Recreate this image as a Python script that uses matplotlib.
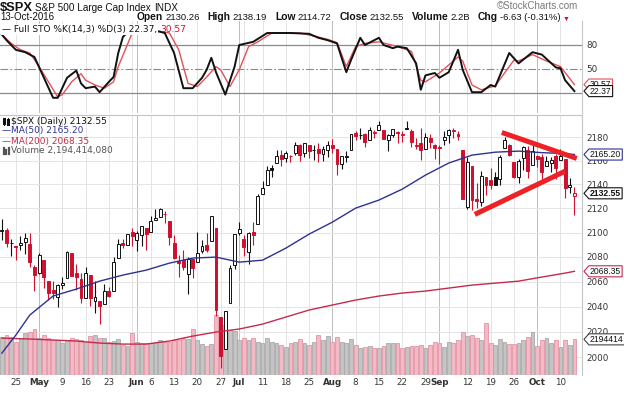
"""
$SPX daily candlestick chart with Full STO, MA(50), MA(200) and volume overlay.
Saves out.png (624x394).
"""

import matplotlib
matplotlib.use("Agg")
import matplotlib.pyplot as plt
import matplotlib.ticker as mticker
import matplotlib.transforms as mtrans
from matplotlib.lines import Line2D
from matplotlib.path import Path
import numpy as np
import pandas as pd

plt.rcParams["font.family"] = ["DejaVu Sans"]

W, H = 624, 394

# ---------------------------------------------------------------- data
HOLIDAYS = ["2016-05-30", "2016-07-04", "2016-09-05"]
dates = pd.bdate_range("2016-04-20", "2016-10-13")
dates = dates[~dates.isin(pd.to_datetime(HOLIDAYS))]

opens = [
    2101.00, 2102.09, 2091.49, 2089.37, 2089.84, 2092.57, 2090.93, 2071.82, 2067.17, 2077.18,
    2060.30, 2052.95, 2047.77, 2057.55, 2062.63, 2083.29, 2067.17, 2062.50, 2046.53, 2065.04,
    2044.38, 2044.21, 2041.88, 2052.23, 2052.65, 2078.93, 2091.44, 2090.06, 2100.13, 2093.94,
    2097.71, 2104.07, 2100.83, 2110.18, 2112.71, 2115.65, 2109.57, 2091.75, 2076.65, 2077.60,
    2066.36, 2078.20, 2075.58, 2085.19, 2089.75, 2092.80, 2103.56, 2031.45, 2006.67, 2042.69,
    2073.17, 2099.34, 2095.05, 2084.43, 2100.42, 2106.97, 2131.72, 2139.50, 2153.81, 2157.88,
    2165.13, 2162.04, 2163.79, 2166.10, 2172.91, 2166.47, 2173.71, 2168.97, 2169.81, 2166.05,
    2168.83, 2173.15, 2169.94, 2156.81, 2163.51, 2168.79, 2183.76, 2182.24, 2182.81, 2177.97,
    2183.74, 2186.08, 2186.24, 2177.84, 2181.90, 2184.24, 2181.58, 2187.81, 2185.09, 2173.29,
    2175.10, 2170.19, 2179.45, 2173.56, 2171.33, 2177.49, 2181.61, 2185.17, 2182.76, 2169.08,
    2120.86, 2155.81, 2127.86, 2125.36, 2146.48, 2143.99, 2145.94, 2144.58, 2170.94, 2173.29,
    2158.54, 2146.04, 2161.85, 2168.90, 2156.51, 2164.33, 2163.37, 2155.15, 2158.22, 2164.19,
    2160.39, 2161.35, 2137.67, 2130.26,
]
highs = [
    2111.05, 2103.78, 2094.32, 2089.37, 2096.87, 2099.89, 2099.30, 2073.85, 2083.42, 2077.18,
    2060.30, 2060.23, 2057.72, 2064.15, 2084.87, 2083.29, 2073.99, 2066.79, 2071.88, 2065.69,
    2060.61, 2044.21, 2058.35, 2055.58, 2079.67, 2094.73, 2094.30, 2099.06, 2103.48, 2100.97,
    2105.26, 2104.07, 2113.36, 2119.22, 2120.55, 2117.64, 2109.57, 2098.12, 2081.30, 2085.65,
    2079.62, 2078.20, 2100.66, 2093.66, 2099.71, 2113.32, 2103.56, 2031.45, 2036.09, 2073.13,
    2098.94, 2108.71, 2098.00, 2100.72, 2109.08, 2131.71, 2143.16, 2155.40, 2156.45, 2168.99,
    2169.05, 2168.35, 2164.63, 2175.63, 2174.56, 2175.11, 2173.71, 2173.54, 2174.98, 2172.85,
    2177.09, 2178.29, 2170.20, 2163.79, 2168.19, 2182.87, 2185.44, 2187.66, 2183.41, 2188.45,
    2186.28, 2193.81, 2186.24, 2183.08, 2187.03, 2185.00, 2185.15, 2193.42, 2186.66, 2179.00,
    2187.94, 2183.48, 2182.27, 2173.79, 2173.56, 2184.87, 2186.57, 2187.87, 2184.94, 2169.08,
    2163.30, 2155.81, 2141.33, 2151.31, 2146.48, 2153.61, 2150.80, 2165.11, 2179.99, 2173.75,
    2158.54, 2161.13, 2172.40, 2172.67, 2175.30, 2164.41, 2165.46, 2163.95, 2162.93, 2165.86,
    2169.60, 2161.56, 2145.36, 2138.19,
]
lows = [
    2093.84, 2088.52, 2081.20, 2077.52, 2085.80, 2082.31, 2071.62, 2052.28, 2066.11, 2054.89,
    2045.55, 2045.77, 2039.45, 2054.31, 2062.63, 2064.46, 2053.13, 2043.13, 2046.53, 2040.82,
    2034.49, 2025.91, 2041.88, 2047.26, 2052.65, 2078.93, 2087.08, 2090.06, 2088.66, 2085.10,
    2088.59, 2085.36, 2100.83, 2110.18, 2112.71, 2107.73, 2089.96, 2078.46, 2064.10, 2069.80,
    2050.37, 2062.84, 2075.58, 2083.02, 2084.36, 2092.80, 2032.57, 1991.68, 2006.67, 2042.69,
    2070.00, 2097.90, 2080.90, 2074.02, 2089.39, 2106.97, 2131.72, 2139.50, 2146.21, 2157.88,
    2155.79, 2159.07, 2159.01, 2164.89, 2159.75, 2163.24, 2161.95, 2160.18, 2159.07, 2159.74,
    2163.49, 2166.21, 2147.58, 2152.56, 2159.07, 2168.79, 2177.85, 2178.61, 2172.00, 2177.97,
    2179.42, 2186.08, 2178.14, 2168.50, 2180.46, 2175.13, 2175.96, 2186.80, 2171.25, 2169.74,
    2160.39, 2170.19, 2170.41, 2161.35, 2157.09, 2173.59, 2175.10, 2179.07, 2177.49, 2127.81,
    2119.12, 2119.06, 2119.90, 2122.36, 2131.20, 2135.91, 2139.17, 2139.57, 2170.94, 2163.97,
    2145.04, 2141.55, 2151.79, 2145.20, 2156.51, 2154.77, 2144.01, 2155.15, 2150.28, 2144.85,
    2160.39, 2128.84, 2132.77, 2114.72,
]
closes = [
    2102.40, 2091.48, 2091.58, 2087.79, 2091.70, 2095.15, 2075.81, 2065.30, 2081.43, 2063.37,
    2051.12, 2050.63, 2057.14, 2058.69, 2084.39, 2064.46, 2064.11, 2046.61, 2066.66, 2047.21,
    2047.63, 2040.04, 2052.32, 2048.04, 2076.06, 2090.54, 2090.10, 2099.06, 2096.95, 2099.33,
    2105.26, 2099.13, 2109.41, 2112.13, 2119.12, 2115.48, 2096.07, 2079.06, 2075.32, 2071.50,
    2077.99, 2071.22, 2083.25, 2088.90, 2085.45, 2113.32, 2037.41, 2000.54, 2036.09, 2070.77,
    2098.86, 2102.95, 2088.55, 2099.73, 2097.90, 2129.90, 2137.16, 2152.14, 2152.43, 2163.75,
    2161.74, 2166.89, 2163.78, 2173.02, 2165.17, 2175.03, 2168.48, 2169.18, 2166.58, 2170.06,
    2173.60, 2170.84, 2157.03, 2163.79, 2164.25, 2182.87, 2180.89, 2181.74, 2175.49, 2185.79,
    2184.05, 2190.15, 2178.15, 2182.22, 2187.02, 2183.87, 2182.64, 2186.90, 2175.44, 2172.47,
    2169.04, 2180.38, 2176.12, 2170.95, 2170.86, 2179.98, 2186.48, 2186.16, 2181.30, 2127.81,
    2159.04, 2127.02, 2125.77, 2147.26, 2139.16, 2139.12, 2139.76, 2163.12, 2177.18, 2164.69,
    2146.10, 2159.93, 2171.37, 2151.13, 2168.27, 2161.20, 2150.49, 2159.73, 2160.77, 2153.74,
    2163.66, 2136.73, 2139.18, 2132.55,
]
close_before_first = 2100.80

volume_bn = [
    2.34, 2.46, 2.34, 2.03, 2.28, 2.58, 2.64, 2.83, 2.28, 2.46,
    2.28, 2.15, 2.15, 1.97, 2.15, 2.28, 2.21, 2.15, 2.03, 2.40,
    2.46, 2.28, 2.28, 2.03, 2.09, 2.21, 1.85, 1.78, 2.58, 2.03,
    1.97, 1.97, 1.97, 2.03, 2.15, 2.03, 2.03, 2.15, 2.15, 2.28,
    2.21, 2.83, 2.15, 1.91, 1.78, 1.91, 3.69, 3.08, 2.83, 2.77,
    2.71, 2.15, 2.28, 2.15, 2.28, 2.03, 1.97, 2.28, 2.03, 1.97,
    1.85, 1.72, 1.97, 2.03, 2.21, 1.97, 1.85, 2.03, 2.46, 2.15,
    2.40, 2.03, 2.34, 2.03, 1.97, 2.21, 1.85, 1.66, 1.72, 1.78,
    1.66, 1.66, 1.78, 1.97, 1.97, 1.97, 1.66, 1.72, 1.78, 1.78,
    1.85, 1.66, 1.85, 2.03, 1.97, 1.72, 2.03, 1.97, 2.15, 2.64,
    2.40, 2.46, 2.28, 2.15, 3.20, 1.97, 1.85, 2.21, 2.03, 1.91,
    1.91, 1.97, 2.15, 2.34, 2.64, 1.78, 2.15, 2.28, 1.97, 2.15,
    1.72, 2.15, 1.85, 2.194,
]

ma50_pos = [0, 3, 6, 11, 16, 21, 26, 31, 36, 41, 46, 51, 56, 61, 66, 71, 76, 81, 86, 91,
            96, 101, 106, 111, 116, 121, 123]
ma50 = [2003.1, 2017.3, 2033.2, 2048.4, 2054.0, 2060.4, 2065.3, 2069.3, 2075.0, 2079.1,
        2079.9, 2075.8, 2077.4, 2087.2, 2098.7, 2108.6, 2120.2, 2126.9, 2136.0, 2147.8,
        2158.0, 2164.7, 2167.2, 2168.1, 2166.8, 2166.0, 2165.20]

ma200_pos = [0, 6, 11, 16, 21, 26, 31, 36, 41, 46, 51, 56, 61, 66, 71, 76, 81, 86, 91,
             96, 101, 106, 111, 116, 121, 123]
ma200 = [2014.9, 2014.2, 2013.4, 2012.6, 2011.0, 2010.2, 2010.2, 2012.6, 2016.5, 2019.7,
         2022.1, 2026.0, 2031.6, 2037.2, 2041.2, 2045.2, 2048.4, 2050.8, 2052.4, 2054.8,
         2057.2, 2058.8, 2060.4, 2063.7, 2066.9, 2068.35]

sto_k_pos = [0, 1, 3, 5, 7, 11, 12, 14, 16, 17, 18, 20, 21, 23, 24, 25, 26, 27, 29, 31,
             33, 35, 37, 39, 41, 43, 44, 45, 46, 48, 50, 51, 54, 57, 62, 66, 68, 70, 72, 74,
             75, 77, 78, 81, 82, 84, 85, 87, 89, 90, 91, 93, 94, 96, 98, 99, 101, 103, 105,
             106, 109, 111, 114, 116, 119, 120, 121, 123]
sto_k = [93, 86, 74, 71, 65, 14, 14, 39, 48, 32, 26, 28, 21, 34, 40, 70, 90, 96, 97, 96,
         98, 95, 70, 26, 26, 39, 49, 64, 46, 18, 53, 80, 84, 95, 95, 94, 89, 86, 82, 46,
         61, 89, 80, 89, 80, 76, 78, 76, 57, 24, 42, 45, 39, 46, 74, 49, 21, 21, 30,
         28, 70, 57, 71, 68, 52, 51, 36, 22.37]

sto_d_pos = [0, 2, 4, 6, 8, 12, 13, 15, 17, 18, 20, 22, 24, 25, 28, 30, 32, 34, 36, 38,
             40, 42, 44, 46, 47, 49, 51, 53, 55, 58, 64, 68, 70, 72, 74, 76, 78, 81, 85, 88,
             90, 91, 94, 98, 99, 101, 103, 106, 110, 111, 114, 117, 120, 122, 123]
sto_d = [93, 82, 74, 70, 53, 15, 18, 34, 44, 36, 30, 26, 34, 53, 95, 96, 96, 97, 95, 74,
         32, 28, 40, 53, 49, 28, 49, 78, 84, 95, 95, 90, 87, 83, 53, 78, 82, 84, 78, 72,
         36, 34, 45, 65, 60, 30, 24, 29, 61, 60, 68, 60, 53, 38, 30.57]

# hand-drawn triangle on the chart (position, price)
wedge_top_pos = [107.4, 123.5]
wedge_top_px = [2184.0, 2161.9]
wedge_bot_pos = [101.6, 121.0]
wedge_bot_px = [2115.0, 2151.1]

tick_days = ["2016-04-25", "2016-05-02", "2016-05-09", "2016-05-16", "2016-05-23",
             "2016-06-01", "2016-06-06", "2016-06-13", "2016-06-20", "2016-06-27",
             "2016-07-01", "2016-07-11", "2016-07-18", "2016-07-25", "2016-08-01",
             "2016-08-08", "2016-08-15", "2016-08-22", "2016-08-29", "2016-09-01",
             "2016-09-12", "2016-09-19", "2016-09-26", "2016-10-03", "2016-10-10"]
tick_labels = ["25", "May", "9", "16", "23", "Jun", "6", "13", "20", "27", "Jul", "11",
               "18", "25", "Aug", "8", "15", "22", "29", "Sep", "12", "19", "26", "Oct", "10"]
MONTHS = {"May", "Jun", "Jul", "Aug", "Sep", "Oct"}

price_ticks = list(range(2000, 2181, 20))

# ---------------------------------------------------------------- style
RED = "#d0102f"
INK = "#111111"
VOL_UP, VOL_UP_EDGE = "#c4c4c4", "#a9a9a9"
VOL_DN, VOL_DN_EDGE = "#f3b9c5", "#e394a5"
GRID = "#e4e4e4"
MONTH_GRID = "#bdbdbd"
MA50_C = "#2e3192"
MA200_C = "#c62a4c"
STO_D_C = "#e0525a"
WEDGE_C = "#ec2227"
LABEL_C = "#333333"
SANS = ["Liberation Sans", "DejaVu Sans"]

XLIM = (-0.4, 124.63)

pos = np.arange(len(dates))
o = np.array(opens)
h = np.array(highs)
lo = np.array(lows)
c = np.array(closes)
prev = np.r_[close_before_first, c[:-1]]
down = c < prev

week_start = np.r_[False, np.diff(dates.isocalendar().week.to_numpy()) != 0]
month_start = np.r_[False, np.diff(dates.month) != 0]
grid_pos = pos[week_start | month_start]
month_pos = pos[month_start]


def fbox(x0, y0, x1, y1):
    return [x0 / W, 1 - y1 / H, (x1 - x0) / W, (y1 - y0) / H]


def tag_shape(x0, y0, width, height, mutation_size):
    pad = mutation_size * 0.12
    x0, y0 = x0 - pad, y0 - pad
    x1, y1 = x0 + width + 2 * pad, y0 + height + 2 * pad
    tip = (y1 - y0) * 0.45
    return Path([(x0, y0), (x1, y0), (x1, y1), (x0, y1),
                 (x0 - tip, (y0 + y1) / 2), (x0, y0), (x0, y0)], closed=True)


def tag(axis, yval, text, edge, weight="normal", transform=None):
    axis.text(1.0137, yval, text, transform=transform or axis.get_yaxis_transform(),
              ha="left", va="center", fontsize=6.2, fontweight=weight, color=INK,
              family=SANS,
              bbox=dict(boxstyle=tag_shape, fc="white", ec=edge, lw=0.8),
              clip_on=False, zorder=20)


def vgrid(axis):
    for p in grid_pos:
        col = MONTH_GRID if p in month_pos else GRID
        axis.axvline(p, color=col, lw=0.7, zorder=0)


fig = plt.figure(figsize=(W / 100, H / 100), dpi=100)
renderer = fig.canvas.get_renderer()

# ---------------------------------------------------------------- STO panel
ax_sto = fig.add_axes(fbox(0, 21, 582, 113))
ax_sto.set_xlim(*XLIM)
ax_sto.set_ylim(-5, 110)
vgrid(ax_sto)
ax_sto.axhline(80, color="#8a8a8a", lw=0.9, zorder=1)
ax_sto.axhline(20, color="#8a8a8a", lw=0.9, zorder=1)
ax_sto.axhline(50, color="#8a8a8a", lw=0.8, ls=(0, (7, 2, 1.5, 2)), zorder=1)
ax_sto.plot(sto_d_pos, sto_d, color=STO_D_C, lw=1.0, zorder=3)
ax_sto.plot(sto_k_pos, sto_k, color=INK, lw=1.4, zorder=4)
ax_sto.set_xticks([])
ax_sto.set_yticks([80, 50, 20])
ax_sto.yaxis.tick_right()
ax_sto.tick_params(axis="y", length=0, pad=3, labelsize=6.3, labelcolor=LABEL_C)
for s in ax_sto.spines.values():
    s.set_visible(False)
ax_sto.spines["right"].set_visible(True)
ax_sto.spines["right"].set_color("#c8c8c8")
tag(ax_sto, sto_d[-1], f"{sto_d[-1]:.2f}", STO_D_C)
tag(ax_sto, sto_k[-1], f"{sto_k[-1]:.2f}", INK)

t = ax_sto.text(2 / 582, 0.91, "\u2014 Full STO %K(14,3) %D(3) 22.37,",
                transform=ax_sto.transAxes, fontsize=6.5, color=INK, va="center",
                bbox=dict(fc="white", ec="none", pad=0.5), zorder=10)
bb = t.get_window_extent(renderer)
fig.text((bb.x1 + 3) / W, 1 - 30 / H, "30.57", fontsize=6.5, color=RED, va="center")

# ---------------------------------------------------------------- price panel
ax_vol = fig.add_axes(fbox(0, 115, 582, 375))
ax = fig.add_axes(fbox(0, 115, 582, 375))
ax.patch.set_visible(False)

ax_vol.set_xlim(*XLIM)
ax_vol.set_ylim(0, 16.0)
vgrid(ax_vol)
hgrid_tr = mtrans.blended_transform_factory(ax_vol.transAxes, ax.transData)
for p in price_ticks:
    ax_vol.plot([0, 1], [p, p], transform=hgrid_tr, color=GRID, lw=0.7, zorder=0)
ax_vol.bar(pos, volume_bn, width=0.82,
           color=np.where(down, VOL_DN, VOL_UP),
           edgecolor=np.where(down, VOL_DN_EDGE, VOL_UP_EDGE), linewidth=0.6, zorder=1)
ax_vol.set_xticks([])
ax_vol.set_yticks([])
for name, s in ax_vol.spines.items():
    s.set_visible(name in ("top", "right"))
    s.set_color("#c4c4c4")

ax.set_xlim(*XLIM)
ax.set_yscale("log")
ax.set_ylim(1986, 2199)
ax.yaxis.set_major_locator(mticker.FixedLocator(price_ticks))
ax.yaxis.set_minor_locator(mticker.NullLocator())
ax.yaxis.set_major_formatter(mticker.FormatStrFormatter("%d"))
ax.yaxis.tick_right()
ax.tick_params(axis="y", length=0, pad=3, labelsize=6.3, labelcolor=LABEL_C)

# candles
col = np.where(down, RED, INK)
filled = c < o
ax.vlines(pos, lo, h, colors=col, lw=0.8, zorder=2)
body_lo = np.minimum(o, c)
body_h = np.maximum(np.abs(c - o), 0.25)
ax.bar(pos, body_h, bottom=body_lo, width=0.62,
       color=np.where(filled, col, "white"), edgecolor=col, linewidth=0.7, zorder=3)

ax.plot(ma200_pos, ma200, color=MA200_C, lw=1.0, zorder=4)
ax.plot(ma50_pos, ma50, color=MA50_C, lw=1.0, zorder=4)

ax.plot(wedge_top_pos, wedge_top_px, color=WEDGE_C, lw=3.6, solid_capstyle="butt", zorder=6)
ax.plot(wedge_bot_pos, wedge_bot_px, color=WEDGE_C, lw=3.6, solid_capstyle="butt", zorder=6)

tick_pos = [dates.get_loc(pd.Timestamp(d)) for d in tick_days]
ax.set_xticks(tick_pos)
ax.set_xticklabels(tick_labels)
ax.tick_params(axis="x", length=0, pad=2.5, labelsize=6.3, labelcolor=LABEL_C)
for lab in ax.get_xticklabels():
    if lab.get_text() in MONTHS:
        lab.set_fontweight("bold")
for s in ax.spines.values():
    s.set_visible(False)

tag(ax, ma50[-1], f"{ma50[-1]:.2f}", MA50_C)
tag(ax, closes[-1], f"{closes[-1]:.2f}", INK, weight="bold")
tag(ax, ma200[-1], f"{ma200[-1]:.2f}", MA200_C)
vol_tr = mtrans.blended_transform_factory(ax.transAxes, ax_vol.transData)
tag(ax, volume_bn[-1], "2194414", "#444444", transform=vol_tr)

# price legend
leg = [(121, "$SPX (Daily) 2132.55", INK),
       (131, "\u2014MA(50) 2165.20", MA50_C),
       (141.5, "\u2014MA(200) 2068.35", MA200_C),
       (151, "Volume 2,194,414,080", "#555555")]
for y, txt, colr in leg:
    x0 = 2 if txt.startswith("\u2014") else 11
    fig.text(x0 / W, 1 - y / H, txt, fontsize=6.5, color=colr, va="center")
# little candle and volume icons
for xx, y0, y1, b0, b1 in [(4, 117.5, 124.5, 119, 123), (8, 118, 125, 120, 124)]:
    fig.add_artist(Line2D([xx / W] * 2, [1 - y0 / H, 1 - y1 / H], color=INK, lw=0.7))
    fig.add_artist(Line2D([xx / W] * 2, [1 - b0 / H, 1 - b1 / H], color=INK, lw=2.2))
for xx, y0 in [(3.5, 148), (6, 150), (8.5, 147.5)]:
    fig.add_artist(Line2D([xx / W] * 2, [1 - y0 / H, 1 - 154 / H], color="#555555", lw=1.6))

# ---------------------------------------------------------------- header
fig.text(0, 1 - 11 / H, "$SPX", fontsize=9.3, fontweight="bold", family=SANS,
         va="baseline", color=INK)
fig.text(35 / W, 1 - 11 / H, "S&P 500 Large Cap Index", fontsize=7.2, family=SANS,
         va="baseline", color=INK)
fig.text(154 / W, 1 - 11 / H, "INDX", fontsize=7.2, family=SANS, va="baseline", color=INK)
fig.text(0, 1 - 20.5 / H, "13-Oct-2016", fontsize=7, family=SANS, va="baseline", color=INK)
fig.text(497 / W, 1 - 9 / H, "\u00a9StockCharts.com", fontsize=7, family=SANS,
         va="baseline", color="#7a7a7a")

pieces = [("Open", "bold", INK, 2), ("2130.26", "normal", INK, 8),
          ("High", "bold", INK, 2), ("2138.19", "normal", INK, 8),
          ("Low", "bold", INK, 2), ("2114.72", "normal", INK, 8),
          ("Close", "bold", INK, 2), ("2132.55", "normal", INK, 8),
          ("Volume", "bold", INK, 2), ("2.2B", "normal", INK, 8),
          ("Chg", "bold", INK, 2), ("-6.63 (-0.31%)", "normal", INK, 2),
          ("\u25bc", "normal", RED, 0)]
x = 137
for txt, wt, colr, gap in pieces:
    size = 7.4 if wt == "bold" else 6.8
    tt = fig.text(x / W, 1 - 20.5 / H, txt, fontsize=size if txt != "\u25bc" else 5,
                  fontweight=wt, family=SANS, va="baseline", color=colr)
    x += tt.get_window_extent(renderer).width + gap

fig.savefig("out.png", dpi=100)
